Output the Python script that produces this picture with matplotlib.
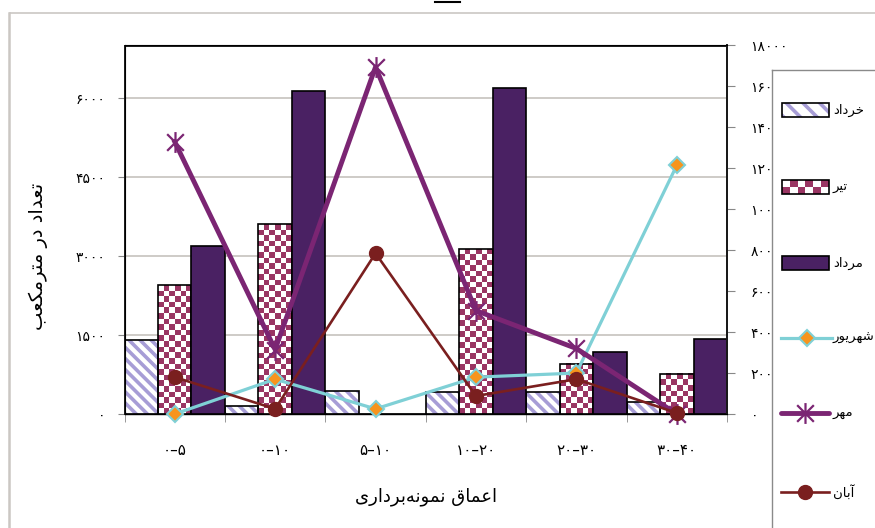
#
# Grouped bars (left axis) with monthly lines on a second axis, Persian labels.
#

import matplotlib
matplotlib.use('Agg')
import matplotlib.pyplot as plt
import numpy as np
from matplotlib.path import Path
from matplotlib.patches import Rectangle
from matplotlib.lines import Line2D

plt.rcParams['font.family'] = ['DejaVu Sans']
plt.rcParams['hatch.linewidth'] = 2.6

# data
depths = ['۰–۵', '۰–۱۰', '۵–۱۰', '۱۰–۲۰', '۲۰–۳۰', '۳۰–۴۰']
khordad = [1400, 150, 430, 420, 420, 230]
tir = [2450, 3600, 0, 3130, 950, 760]
mordad = [3200, 6130, 0, 6190, 1180, 1420]
shahrivar = [0, 170, 25, 180, 200, 1215]
mehr = [1330, 315, 1695, 505, 320, 0]
aban = [180, 25, 785, 88, 170, 5]

left_ticks = [0, 1500, 3000, 4500, 6000]
left_labels = ['۰', '۱۵۰۰', '۳۰۰۰', '۴۵۰۰', '۶۰۰۰']
right_ticks = [0, 200, 400, 600, 800, 1000, 1200, 1400, 1600, 1800]
right_labels = ['۰', '۲۰۰', '۴۰۰', '۶۰۰', '۸۰۰', '۱۰۰', '۱۲۰', '۱۴۰', '۱۶۰', '۱۸۰۰۰']

names = ['خرداد', 'تیر', 'مرداد', 'شهریور', 'مهر', 'آبان']
ylabel = 'تعداد در مترمکعب'
xlabel = 'اعماق نمونه\u200cبرداری'

# matplotlib does no arabic shaping, so pick presentation forms by hand
FORMS = {
    'ا': ('\uFE8D', '\uFE8E'),
    'آ': ('\uFE81', '\uFE82'),
    'د': ('\uFEA9', '\uFEAA'),
    'ر': ('\uFEAD', '\uFEAE'),
    'و': ('\uFEED', '\uFEEE'),
    'ب': ('\uFE8F', '\uFE90', '\uFE91', '\uFE92'),
    'ت': ('\uFE95', '\uFE96', '\uFE97', '\uFE98'),
    'خ': ('\uFEA5', '\uFEA6', '\uFEA7', '\uFEA8'),
    'ش': ('\uFEB5', '\uFEB6', '\uFEB7', '\uFEB8'),
    'ع': ('\uFEC9', '\uFECA', '\uFECB', '\uFECC'),
    'ق': ('\uFED5', '\uFED6', '\uFED7', '\uFED8'),
    'م': ('\uFEE1', '\uFEE2', '\uFEE3', '\uFEE4'),
    'ن': ('\uFEE5', '\uFEE6', '\uFEE7', '\uFEE8'),
    'ه': ('\uFEE9', '\uFEEA', '\uFEEB', '\uFEEC'),
    'ک': ('\uFB8E', '\uFB8F', '\uFB90', '\uFB91'),
    'ی': ('\uFBFC', '\uFBFD', '\uFBFE', '\uFBFF'),
}


def shape(s):
    out = []
    for i, ch in enumerate(s):
        f = FORMS.get(ch)
        if f is None:
            out.append(ch)
            continue
        prev = s[i - 1] if i > 0 else ''
        nxt = s[i + 1] if i + 1 < len(s) else ''
        jp = prev in FORMS and len(FORMS[prev]) == 4
        jn = len(f) == 4 and nxt in FORMS
        if jp and jn:
            out.append(f[3])
        elif jp:
            out.append(f[1])
        elif jn:
            out.append(f[2])
        else:
            out.append(f[0])
    return ''.join(c for c in reversed(out) if c != '\u200c')


lav = '#a79dd6'
maroon = '#9a3563'
dark = '#4a2163'
cyan = '#7fd0d6'
orange = '#f7941d'
purple = '#7b2573'
red = '#7a1f1f'


def checker(nx, ny):
    return np.indices((ny, nx)).sum(axis=0) % 2


fig = plt.figure(figsize=(8.75, 5.28), dpi=100)
ax = fig.add_axes([124.5 / 875, 1 - 414 / 528, (727 - 124.5) / 875, (414 - 45.5) / 528])
ax.set_xlim(-0.5, 5.5)
ax.set_ylim(0, 7000)

x = np.arange(len(depths))
w = 1 / 3

ax.bar(x - w, khordad, w, color='white', edgecolor=lav, hatch='\\' * 3, linewidth=0, zorder=2)
ax.bar(x - w, khordad, w, fill=False, edgecolor='black', linewidth=1.2, zorder=3)

tir_bars = ax.bar(x, tir, w, fill=False, edgecolor='black', linewidth=1.2, zorder=3)
cmap = matplotlib.colors.ListedColormap(['white', maroon])
for b in tir_bars:
    h = b.get_height()
    if h <= 0:
        continue
    p0 = ax.transData.transform((b.get_x(), 0))
    p1 = ax.transData.transform((b.get_x() + b.get_width(), h))
    cell = (p1[0] - p0[0]) / 6
    ny = max(1, int(round((p1[1] - p0[1]) / cell)))
    ax.imshow(checker(6, ny), cmap=cmap, interpolation='nearest', aspect='auto',
              extent=[b.get_x(), b.get_x() + b.get_width(), 0, h], zorder=2)

ax.bar(x + w, mordad, w, color=dark, edgecolor='black', linewidth=1.2, zorder=3)
ax.set_xlim(-0.5, 5.5)
ax.set_ylim(0, 7000)

ax.set_yticks(left_ticks)
ax.set_yticklabels(left_labels, fontsize=10)
ax.yaxis.grid(True, color='#c6c2be', linewidth=1.2)
ax.set_axisbelow(True)
ax.tick_params(axis='y', length=5, color='#888888', pad=9)

ax.set_xticks(x)
ax.set_xticklabels(depths, fontsize=11)
ax.tick_params(axis='x', which='major', length=0, pad=21)
ax.set_xticks(np.arange(-0.5, 6, 1), minor=True)
ax.tick_params(axis='x', which='minor', length=6, color='#888888')

ax.set_ylabel(shape(ylabel), fontsize=14)
ax.yaxis.set_label_coords((48 - 124.5) / 602.5, (414 - 256) / 368.5)
ax.set_xlabel(shape(xlabel), fontsize=13, labelpad=21)

for s in ['left', 'top', 'right']:
    ax.spines[s].set_linewidth(1.4)
    ax.spines[s].set_color('#1a1a1a')
ax.spines['bottom'].set_linewidth(1.0)
ax.spines['bottom'].set_color('#333333')

ax2 = ax.twinx()
ax2.set_ylim(0, 1800)
ax2.set_yticks(right_ticks)
ax2.set_yticklabels(right_labels, fontsize=10)
ax2.tick_params(axis='y', length=6, color='#888888', pad=11)
ax2.spines['right'].set_linewidth(1.4)
ax2.spines['right'].set_color('#1a1a1a')

star = Path([(-1, -1), (1, 1), (-1, 1), (1, -1), (0, -1.25), (0, 1.25)],
            [Path.MOVETO, Path.LINETO, Path.MOVETO, Path.LINETO, Path.MOVETO, Path.LINETO])

ax2.plot(x, shahrivar, color=cyan, lw=2.3, marker='D', ms=8.5, mfc=orange, mec=cyan,
         mew=1.5, clip_on=False, zorder=3)
ax2.plot(x, mehr, color=purple, lw=3.5, marker=star, ms=15, mfc=purple, mec=purple,
         mew=1.6, clip_on=False, zorder=4)
ax2.plot(x, aban, color=red, lw=1.9, marker='o', ms=10, mfc=red, mec=red,
         clip_on=False, zorder=5)

# hand drawn legend box, cut by the right and bottom edges like the original
lax = fig.add_axes([772 / 875, 0, 103 / 875, 458 / 528])
lax.set_xticks([])
lax.set_yticks([])
for s in ['right', 'bottom']:
    lax.spines[s].set_visible(False)
for s in ['left', 'top']:
    lax.spines[s].set_color('#8a8a8a')
    lax.spines[s].set_linewidth(1.0)

ys = [40, 117, 193, 268, 343, 422]
lax.add_patch(Rectangle((10, ys[0] - 7), 47, 14, facecolor='white', edgecolor=lav,
                        hatch='\\\\', linewidth=0))
lax.add_patch(Rectangle((10, ys[0] - 7), 47, 14, fill=False, edgecolor='black', linewidth=1.2))
lax.imshow(checker(6, 2), cmap=cmap, interpolation='nearest', aspect='auto',
           extent=[10, 57, ys[1] + 7, ys[1] - 7])
lax.add_patch(Rectangle((10, ys[1] - 7), 47, 14, fill=False, edgecolor='black', linewidth=1.2))
lax.add_patch(Rectangle((10, ys[2] - 7), 47, 14, facecolor=dark, edgecolor='black', linewidth=1.2))
lax.plot([9, 60], [ys[3], ys[3]], color=cyan, lw=2.3)
lax.plot([34.5], [ys[3]], marker='D', ms=8.5, mfc=orange, mec=cyan, mew=1.5)
lax.plot([9, 57], [ys[4], ys[4]], color=purple, lw=3.5, solid_capstyle='round')
lax.plot([33], [ys[4]], marker=star, ms=15, mfc=purple, mec=purple, mew=1.6)
lax.plot([9, 57], [ys[5], ys[5]], color=red, lw=1.9)
lax.plot([33], [ys[5]], marker='o', ms=10, mfc=red, mec=red)
lax.set_xlim(0, 103)
lax.set_ylim(458, 0)
for yy, nm in zip(ys, names):
    lax.text(61, yy, shape(nm), fontsize=9.5, va='center', ha='left', clip_on=False)

# outer frame of the chart object and the stray mark above it
fig.add_artist(Line2D([10 / 875, 1.01], [1 - 13 / 528, 1 - 13 / 528], color='#cbc7c3', lw=1.2))
fig.add_artist(Line2D([9 / 875, 9 / 875], [0, 1 - 13 / 528], color='#cbc7c3', lw=1.8))
fig.add_artist(Line2D([435 / 875, 460 / 875], [1 - 2 / 528, 1 - 2 / 528], color='black', lw=1.5))

fig.savefig('out.png', dpi=100)
